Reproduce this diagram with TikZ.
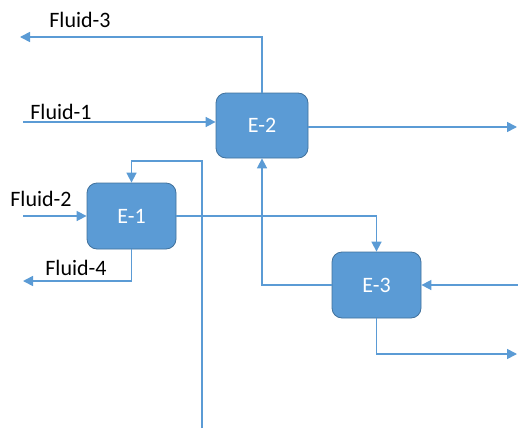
\documentclass[tikz,border=0pt]{standalone}
\usepackage{fontspec}
\setmainfont{Carlito}
\usetikzlibrary{arrows.meta}
\definecolor{lineblue}{HTML}{5B9BD5}
\definecolor{boxblue}{HTML}{5B9BD5}
\definecolor{boxedge}{HTML}{41719C}
\begin{document}
\begin{tikzpicture}[x=1pt,y=-1pt,
  unit/.style={draw=boxedge, line width=0.8pt, fill=boxblue, rounded corners=10pt,
    text=white, font=\fontsize{22}{26}\selectfont, inner sep=0pt},
  flow/.style={draw=lineblue, line width=1.6pt, -{Triangle[length=10pt,width=10pt]}},
  lbl/.style={font=\fontsize{22}{26}\selectfont, text=black, inner sep=0pt}]
\useasboundingbox (0,0) rectangle (518,428);
\node[unit, minimum width=92pt, minimum height=65pt] (E2) at (262,125.5) {E-2};
\node[unit, minimum width=89pt, minimum height=66pt] (E1) at (131.5,216) {E-1};
\node[unit, minimum width=89pt, minimum height=66pt] (E3) at (376.5,285) {E-3};
\coordinate (f3end) at (20,37);
\coordinate (f1start) at (23,122);
\coordinate (e2out) at (517,127);
\coordinate (retstart) at (202,428);
\coordinate (retturn) at (202,161);
\coordinate (f2start) at (23,216);
\coordinate (f4end) at (23,281);
\coordinate (e3in) at (518,285);
\coordinate (e3out) at (517,354);
\node[lbl] (L3) at (80,20) {Fluid-3};
\node[lbl] (L1) at (61,112) {Fluid-1};
\node[lbl] (L2) at (41,199) {Fluid-2};
\node[lbl] (L4) at (76,268) {Fluid-4};
\draw[flow] (E2.north) |- (f3end);
\draw[flow] (f1start) -- (f1start -| E2.west);
\draw[flow] (E2.east |- e2out) -- (e2out);
\draw[flow] (retstart) -- (retturn) -| (E1.north);
\draw[flow] (f2start) -- (E1.west);
\draw[flow] (E1.south) |- (f4end);
\draw[flow] (E1.east) -| (E3.north);
\draw[flow] (E3.west) -| (E2.south);
\draw[flow] (e3in) -- (E3.east);
\draw[flow] (E3.south) |- (e3out);
\end{tikzpicture}
\end{document}
